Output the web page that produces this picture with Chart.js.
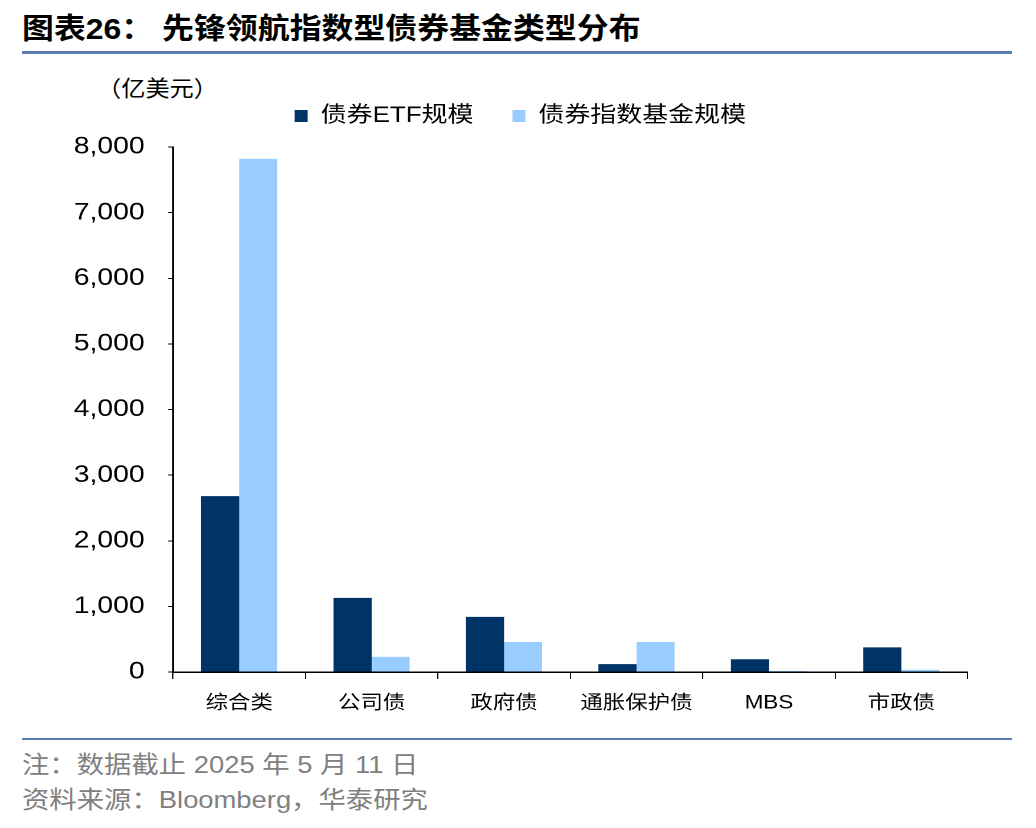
<!DOCTYPE html>
<html><head><meta charset="utf-8">
<script src="https://cdn.jsdelivr.net/npm/chart.js@4/dist/chart.umd.min.js"></script>
<style>
html,body{margin:0;padding:0;background:#fff;}
body{width:1036px;height:828px;position:relative;overflow:hidden;font-family:"Liberation Sans","Noto Sans CJK SC",sans-serif;}
.sx{transform-origin:0 0;white-space:nowrap;position:absolute;}
#title{left:22px;top:9px;font-size:29px;font-weight:bold;color:#000;transform:scaleX(1.1);line-height:40px;}
#line1{position:absolute;left:22px;top:51px;width:990px;height:3px;background:#5a7db3;}
#line2{position:absolute;left:22px;top:738px;width:990px;height:2px;background:#5a7db3;}
#unit{left:97px;top:73px;font-size:22px;color:#000;transform:scaleX(1.1);line-height:32px;}
.foot{left:22px;font-size:24px;color:#808080;transform:scaleX(1.14);line-height:34px;}
#wrap{position:absolute;left:0;top:60px;width:1036px;height:670px;}
</style></head>
<body>
<div id="title" class="sx">图表26：&nbsp;先锋领航指数型债券基金类型分布</div>
<div id="line1"></div>
<div id="unit" class="sx">（亿美元）</div>
<div id="wrap"><canvas id="c" width="878" height="670"></canvas></div>
<div id="line2"></div>
<div class="foot sx" style="top:748px;">注：数据截止 2025 年 5 月 11 日</div>
<div class="foot sx" style="top:783px;">资料来源：Bloomberg，华泰研究</div>
<script>
const categories = ["综合类","公司债","政府债","通胀保护债","MBS","市政债"];
const etfValues = [2680, 1130, 840, 120, 195, 375];
const indexFundValues = [7820, 230, 457, 457, 15, 35];
const seriesNames = ["债券ETF规模","债券指数基金规模"];
const yTicks = [0,1000,2000,3000,4000,5000,6000,7000,8000];

const fontFam = '"Liberation Sans","Noto Sans CJK SC",sans-serif';
const canvas = document.getElementById('c');
const legendHeightPlugin = {
  id: 'legendHeight',
  beforeUpdate(chart) {
    const lg = chart.legend;
    if (lg && !lg._patched) {
      lg._patched = true;
      const origFit = lg.fit;
      lg.fit = function () { origFit.call(this); this.height = 75; };
    }
  }
};
new Chart(canvas, {
  type: 'bar',
  data: {
    labels: categories,
    datasets: [
      {label: seriesNames[0], data: etfValues, backgroundColor: '#003366', categoryPercentage: 0.575, barPercentage: 1.0},
      {label: seriesNames[1], data: indexFundValues, backgroundColor: '#99ccff', categoryPercentage: 0.575, barPercentage: 1.0}
    ]
  },
  plugins: [legendHeightPlugin],
  options: {
    responsive: false,
    animation: false,
    devicePixelRatio: 2,
    layout: {padding: {left: 62, right: 58, top: 12, bottom: 0}},
    plugins: {
      legend: {
        position: 'top',
        align: 'center',
        labels: {
          font: {size: 22, family: fontFam},
          color: '#000',
          boxWidth: 11, boxHeight: 12,
          padding: 33
        }
      },
      tooltip: {enabled: false}
    },
    scales: {
      x: {
        grid: {display: true, drawOnChartArea: false, drawTicks: true, tickLength: 7, color: '#000', offset: true},
        border: {display: true, color: '#000', width: 1.5},
        ticks: {font: {size: 19, family: fontFam}, color: '#000', padding: 13},
        afterFit: s => { s.height = 58; }
      },
      y: {
        min: 0, max: 8000,
        afterBuildTicks: s => { s.ticks = yTicks.map(v => ({value: v})); },
        grid: {display: true, drawOnChartArea: false, drawTicks: true, tickLength: 4, color: '#000'},
        border: {display: true, color: '#000', width: 1.5},
        ticks: {font: {size: 24, family: fontFam}, color: '#000', padding: 20,
          callback: v => v.toLocaleString('en-US')},
        afterFit: s => { s.width = 84.6; }
      }
    }
  }
});
canvas.style.width = '1036px';
canvas.style.height = '670px';
</script>
</body></html>
